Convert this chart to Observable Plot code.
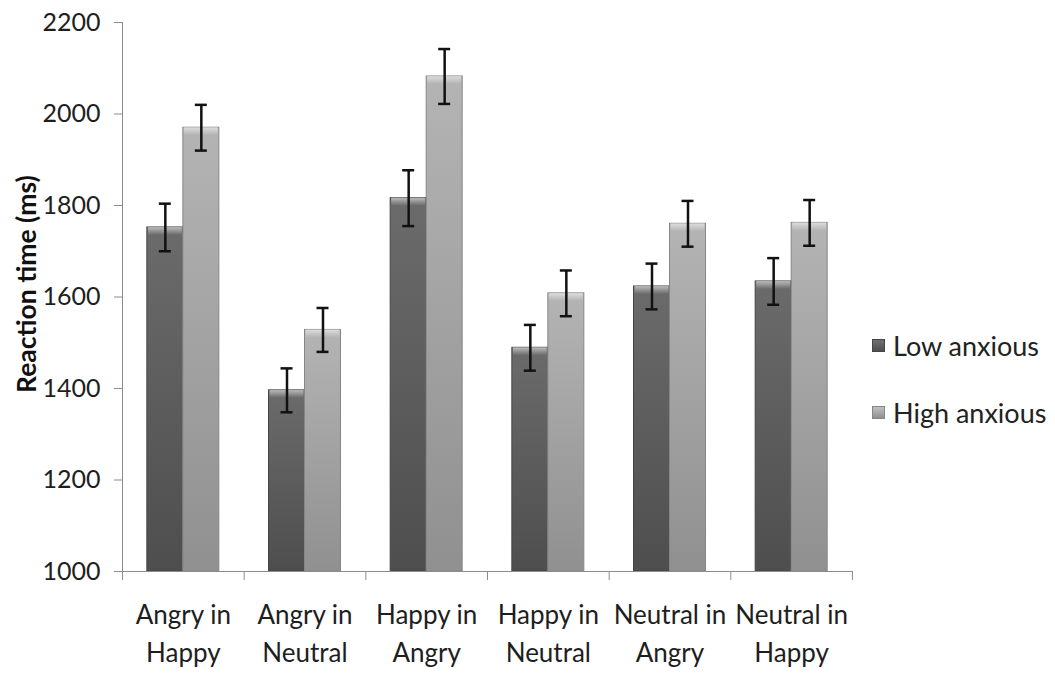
<!DOCTYPE html>
<html><head><meta charset="utf-8">
<script src="https://cdn.jsdelivr.net/npm/d3@7"></script>
<script src="https://cdn.jsdelivr.net/npm/@observablehq/plot@0.6"></script>
<style>
body{margin:0;background:#fff;font-family:Lato,sans-serif;}
#wrap{position:relative;width:1055px;height:673px;}
#legend{position:absolute;left:872px;top:328px;font-size:27px;color:#222;font-family:Lato,sans-serif;}
.item{display:flex;align-items:center;height:34px;margin-bottom:33px;white-space:nowrap}
.sw{width:13px;height:13px;margin-right:8px;box-sizing:border-box;}
</style></head><body>
<svg width="0" height="0" style="position:absolute">
<defs>
<linearGradient id="gLow" x1="0" y1="0" x2="0" y2="1">
<stop offset="0" stop-color="#6b6b6b"/><stop offset="1" stop-color="#4e4e4e"/>
</linearGradient>
<linearGradient id="gHigh" x1="0" y1="0" x2="0" y2="1">
<stop offset="0" stop-color="#b4b4b4"/><stop offset="1" stop-color="#909090"/>
</linearGradient>
<linearGradient id="gTop" x1="0" y1="0" x2="0" y2="1">
<stop offset="0" stop-color="#ffffff" stop-opacity="0.55"/><stop offset="1" stop-color="#ffffff" stop-opacity="0"/>
</linearGradient>
</defs></svg>
<div id="wrap"><div id="legend"></div></div>
<script>
const categories = ["Angry in Happy","Angry in Neutral","Happy in Angry","Happy in Neutral","Neutral in Angry","Neutral in Happy"];
const series = ["Low anxious","High anxious"];
const lowMeans = [1752,1396,1816,1489,1623,1634];
const highMeans = [1970,1528,2082,1608,1760,1762];
const lowErr = [52,48,61,50,50,51];
const highErr = [50,48,60,50,50,50];
const yTicks = [1000,1200,1400,1600,1800,2000,2200];

const rows = categories.flatMap((c,i)=>[
  {category:c, series:series[0], value:lowMeans[i], err:lowErr[i]},
  {category:c, series:series[1], value:highMeans[i], err:highErr[i]}
]);
const lowRows = rows.filter(d=>d.series===series[0]);
const highRows = rows.filter(d=>d.series===series[1]);

const W=1055,H=673,mL=122,mR=203,mT=22,mB=102;
const pOuter=0.69;
const facetW=(W-mL-mR)/categories.length;
const step=facetW/(2+2*pOuter);
const edgeOffset=step*(pOuter+0.5);
const axisColor="#8c8c8c";

const chart = Plot.plot({
  width:W,height:H,marginLeft:mL,marginRight:mR,marginTop:mT,marginBottom:mB,
  style:{fontFamily:"Lato, sans-serif",color:"#1e1e1e",background:"white"},
  fx:{domain:categories,padding:0,round:false,label:null},
  x:{domain:series,paddingInner:0,paddingOuter:pOuter,round:false,axis:null},
  y:{domain:[1000,2200],label:null},
  marks:[
    Plot.barY(lowRows,{fx:"category",x:"series",y1:1000,y2:"value",fill:"url(#gLow)",stroke:"#454545",strokeWidth:1}),
    Plot.barY(highRows,{fx:"category",x:"series",y1:1000,y2:"value",fill:"url(#gHigh)",stroke:"#868686",strokeWidth:1}),
    Plot.barY(rows,{fx:"category",x:"series",y1:"value",y2:"value",insetBottom:-8,insetLeft:1,insetRight:1,fill:"url(#gTop)"}),
    Plot.ruleY([1000],{stroke:axisColor}),
    Plot.ruleX([categories[0]],{fx:d=>d,x:()=>series[0],dx:-edgeOffset,stroke:axisColor}),
    Plot.ruleX(categories,{fx:d=>d,x:()=>series[0],y1:1000,y2:1000,insetBottom:-9,dx:-edgeOffset,stroke:axisColor}),
    Plot.ruleX([categories[categories.length-1]],{fx:d=>d,x:()=>series[1],y1:1000,y2:1000,insetBottom:-9,dx:edgeOffset,stroke:axisColor}),
    Plot.ruleX(rows,{fx:"category",x:"series",y1:d=>d.value-d.err,y2:d=>d.value+d.err,stroke:"#111",strokeWidth:2.5}),
    Plot.tickY(rows,{fx:"category",x:"series",y:d=>d.value+d.err,insetLeft:12,insetRight:12,stroke:"#111",strokeWidth:2.5}),
    Plot.tickY(rows,{fx:"category",x:"series",y:d=>d.value-d.err,insetLeft:12,insetRight:12,stroke:"#111",strokeWidth:2.5}),
    Plot.axisY({ticks:yTicks,tickSize:8,tickPadding:14,fontSize:25,stroke:axisColor,fill:"#1e1e1e",tickFormat:d=>String(d),label:null}),
    Plot.axisFx({anchor:"bottom",tickSize:0,tickPadding:26,fontSize:26,lineHeight:1.45,tickFormat:d=>d.replace(" in "," in\n"),label:null,fill:"#1e1e1e"}),
    Plot.text(["Reaction time (ms)"],{fx:()=>categories[0],frameAnchor:"left",rotate:-90,dx:-95,dy:96,fontSize:26.5,fontWeight:"bold",fill:"#111",text:d=>d})
  ]
});
document.getElementById("wrap").prepend(chart);

const legend=document.getElementById("legend");
const swatch={[series[0]]:"linear-gradient(#707070,#4e4e4e)",[series[1]]:"linear-gradient(#c0c0c0,#909090)"};
const swStroke={[series[0]]:"#454545",[series[1]]:"#868686"};
series.forEach(s=>{
  const it=document.createElement("div");it.className="item";
  const sw=document.createElement("span");sw.className="sw";sw.style.background=swatch[s];sw.style.border="1px solid "+swStroke[s];
  const t=document.createElement("span");t.textContent=s;
  it.append(sw,t);legend.append(it);
});
</script>
</body></html>
